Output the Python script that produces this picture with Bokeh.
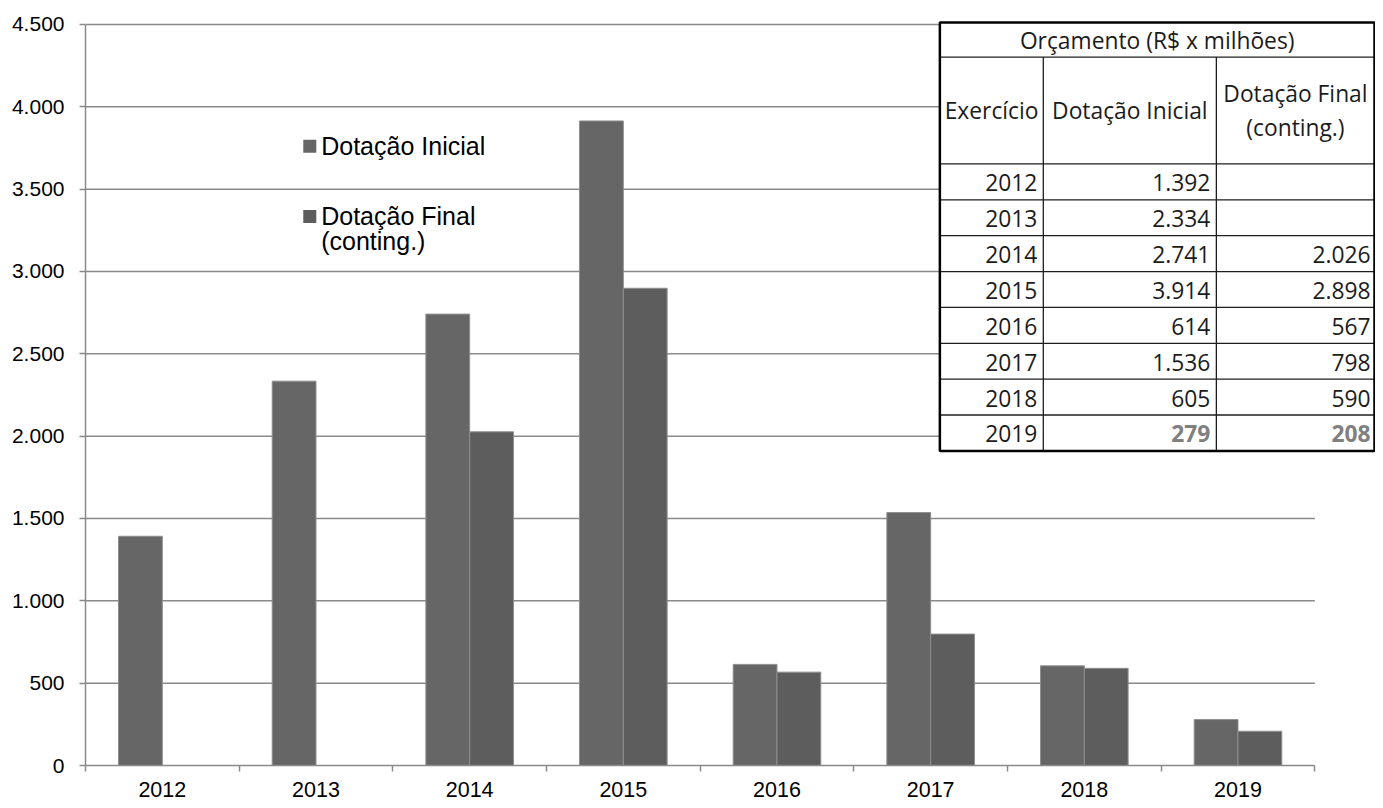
import numpy as np
from bokeh.plotting import figure
from bokeh.models import Range1d, FixedTicker, CustomJSTickFormatter, ColumnDataSource
from bokeh.core.properties import value
from bokeh.embed import file_html
from bokeh.resources import INLINE

# ---------------- data ----------------
years = ["2012", "2013", "2014", "2015", "2016", "2017", "2018", "2019"]
dot_inicial = [1392, 2334, 2741, 3914, 614, 1536, 605, 279]
dot_final = [None, None, 2026, 2898, 567, 798, 590, 208]
series_names = ["Dotação Inicial", "Dotação Final\n(conting.)"]
table_title = "Orçamento (R$ x milhões)"
table_headers = ["Exercício", "Dotação Inicial", "Dotação Final\n(conting.)"]
y_ticks = list(range(0, 4501, 500))

# ---------------- styles ----------------
C_INI = "#666666"
C_FIN = "#5d5d5d"
C_EDGE = "#8e8e8e"
C_GRID = "#8a8a8a"
AX_FONT = "Liberation Sans"
TB_FONT = "Open Sans"

n = len(years)

# layout helpers: reference-pixel -> data units
X0_PX, CAT_PX = 86.0, 154.5
Y0_PX, UNIT_PX = 773.0, 749.0 / 4500.0


def dx(px):
    return (px - X0_PX) / CAT_PX


def dy(py):
    return (Y0_PX - py) / UNIT_PX


def fmt(v):
    return "" if v is None else f"{v:,}".replace(",", ".")


p = figure(width=1375, height=800,
           x_range=Range1d(0, dx(1383)), y_range=Range1d(0, dy(20)),
           output_backend="svg", toolbar_location=None,
           min_border_left=85, min_border_right=0,
           min_border_top=20, min_border_bottom=35)
p.outline_line_color = None
p.xgrid.visible = False
p.ygrid.visible = False
p.background_fill_color = "white"

# y axis
ya = p.yaxis[0]
ya.ticker = FixedTicker(ticks=y_ticks)
ya.formatter = CustomJSTickFormatter(
    code="return String(Math.round(tick)).replace(/\\B(?=(\\d{3})+(?!\\d))/g, '.');")
ya.bounds = (0, y_ticks[-1])
ya.axis_line_color = C_GRID
ya.axis_line_width = 1.5
ya.major_tick_line_color = C_GRID
ya.major_tick_line_width = 1.5
ya.major_tick_in = 0
ya.major_tick_out = 6
ya.minor_tick_in = 0
ya.minor_tick_out = 0
ya.major_label_standoff = 15
ya.major_label_text_font = AX_FONT
ya.major_label_text_font_size = "21px"
ya.major_label_text_color = "black"

# x axis
xa = p.xaxis[0]
centers = [i + 0.5 for i in range(n)]
bounds_ticks = list(range(n + 1))
xa.ticker = FixedTicker(ticks=centers, minor_ticks=bounds_ticks)
xa.formatter = CustomJSTickFormatter(args=dict(labels=years),
                                     code="return labels[Math.floor(tick)];")
xa.bounds = (0, n)
xa.axis_line_color = C_GRID
xa.axis_line_width = 1.5
xa.major_tick_in = 0
xa.major_tick_out = 0
xa.minor_tick_in = 0
xa.minor_tick_out = 6
xa.minor_tick_line_color = C_GRID
xa.minor_tick_line_width = 1.5
xa.major_label_standoff = 10
xa.major_label_text_font = AX_FONT
xa.major_label_text_font_size = "21.5px"
xa.major_label_text_color = "black"

# grid lines
gy = [t for t in y_ticks if t > 0]
p.segment(x0=[0] * len(gy), x1=[n] * len(gy), y0=gy, y1=gy,
          line_color=C_GRID, line_width=1.5)

# bars
BW = 0.285
ini_src = ColumnDataSource(dict(x=[i + 0.5 - BW / 2 for i in range(n)], top=dot_inicial))
fx = [i + 0.5 + BW / 2 for i, v in enumerate(dot_final) if v is not None]
ft = [v for v in dot_final if v is not None]
fin_src = ColumnDataSource(dict(x=fx, top=ft))
p.vbar(x="x", top="top", width=BW, source=ini_src,
       fill_color=C_INI, line_color=C_EDGE, line_width=1)
p.vbar(x="x", top="top", width=BW, source=fin_src,
       fill_color=C_FIN, line_color=C_EDGE, line_width=1)

# legend (manual, multi-line label)
leg_y = [147, 218]
for name, col, ly in zip(series_names, [C_INI, C_FIN], leg_y):
    p.scatter(x=[dx(311.5)], y=[dy(ly)], marker="square", size=13,
              fill_color=col, line_color=None)
    lines = name.split("\n")
    p.text(x=[dx(323)] * len(lines), y=[dy(ly + 25 * k) for k in range(len(lines))],
           text=lines, text_font=value(AX_FONT), text_font_size="25px",
           text_color="black", text_align="left", text_baseline="middle")

# ---------------- table ----------------
TL, TR, TT, TB = 945, 1382, 22, 455
H1, H2 = 57, 165
C1, C2 = 1049, 1223
row_h = (TB - H2) / n

p.quad(left=[dx(TL)], right=[dx(TR)], top=[dy(TT)], bottom=[dy(TB)],
       fill_color="white", line_color=None)

# inner horizontal lines
hy = [H1, H2] + [H2 + row_h * k for k in range(1, n)]
p.segment(x0=[dx(TL)] * len(hy), x1=[dx(TR)] * len(hy),
          y0=[dy(v) for v in hy], y1=[dy(v) for v in hy],
          line_color="#1e1e1e", line_width=1.3)
# inner vertical lines
p.segment(x0=[dx(C1), dx(C2)], x1=[dx(C1), dx(C2)],
          y0=[dy(H1)] * 2, y1=[dy(TB)] * 2,
          line_color="#1e1e1e", line_width=1.3)
# outer border
p.quad(left=[dx(TL)], right=[dx(TR)], top=[dy(TT)], bottom=[dy(TB)],
       fill_color=None, line_color="black", line_width=2.5)

TXT = "#1c1c1c"
TFS = "22.8px"
p.text(x=[dx((TL + TR) / 2)], y=[dy((TT + H1) / 2 + 1)], text=[table_title],
       text_font=value(TB_FONT), text_font_size=TFS, text_color=TXT,
       text_align="center", text_baseline="middle")

hc = [(TL + C1) / 2, (C1 + C2) / 2, (C2 + TR) / 2]
hmid = (H1 + H2) / 2
for cx, h in zip(hc, table_headers):
    lines = h.split("\n")
    m = len(lines)
    ys = [hmid + 35 * (k - (m - 1) / 2) for k in range(m)]
    p.text(x=[dx(cx)] * m, y=[dy(v) for v in ys], text=lines,
           text_font=value(TB_FONT), text_font_size=TFS, text_color=TXT,
           text_align="center", text_baseline="middle")

row_y = [dy(H2 + row_h * (i + 0.5) + 1) for i in range(n)]
p.text(x=[dx(C1 - 6)] * n, y=row_y, text=years,
       text_font=value(TB_FONT), text_font_size=TFS, text_color=TXT,
       text_align="right", text_baseline="middle")

last = n - 1
val_src = ColumnDataSource(dict(
    x=[dx(C2 - 6)] * n + [dx(TR - 4)] * n,
    y=row_y + row_y,
    text=[fmt(v) for v in dot_inicial] + [fmt(v) for v in dot_final],
    color=[("#808080" if i == last else TXT) for i in range(n)] * 2,
    style=[("bold" if i == last else "normal") for i in range(n)] * 2,
))
p.text(x="x", y="y", text="text", source=val_src,
       text_font=value(TB_FONT), text_font_size=TFS, text_color="color",
       text_font_style="style", text_align="right", text_baseline="middle")

open("out.html", "w").write(file_html(p, INLINE))
